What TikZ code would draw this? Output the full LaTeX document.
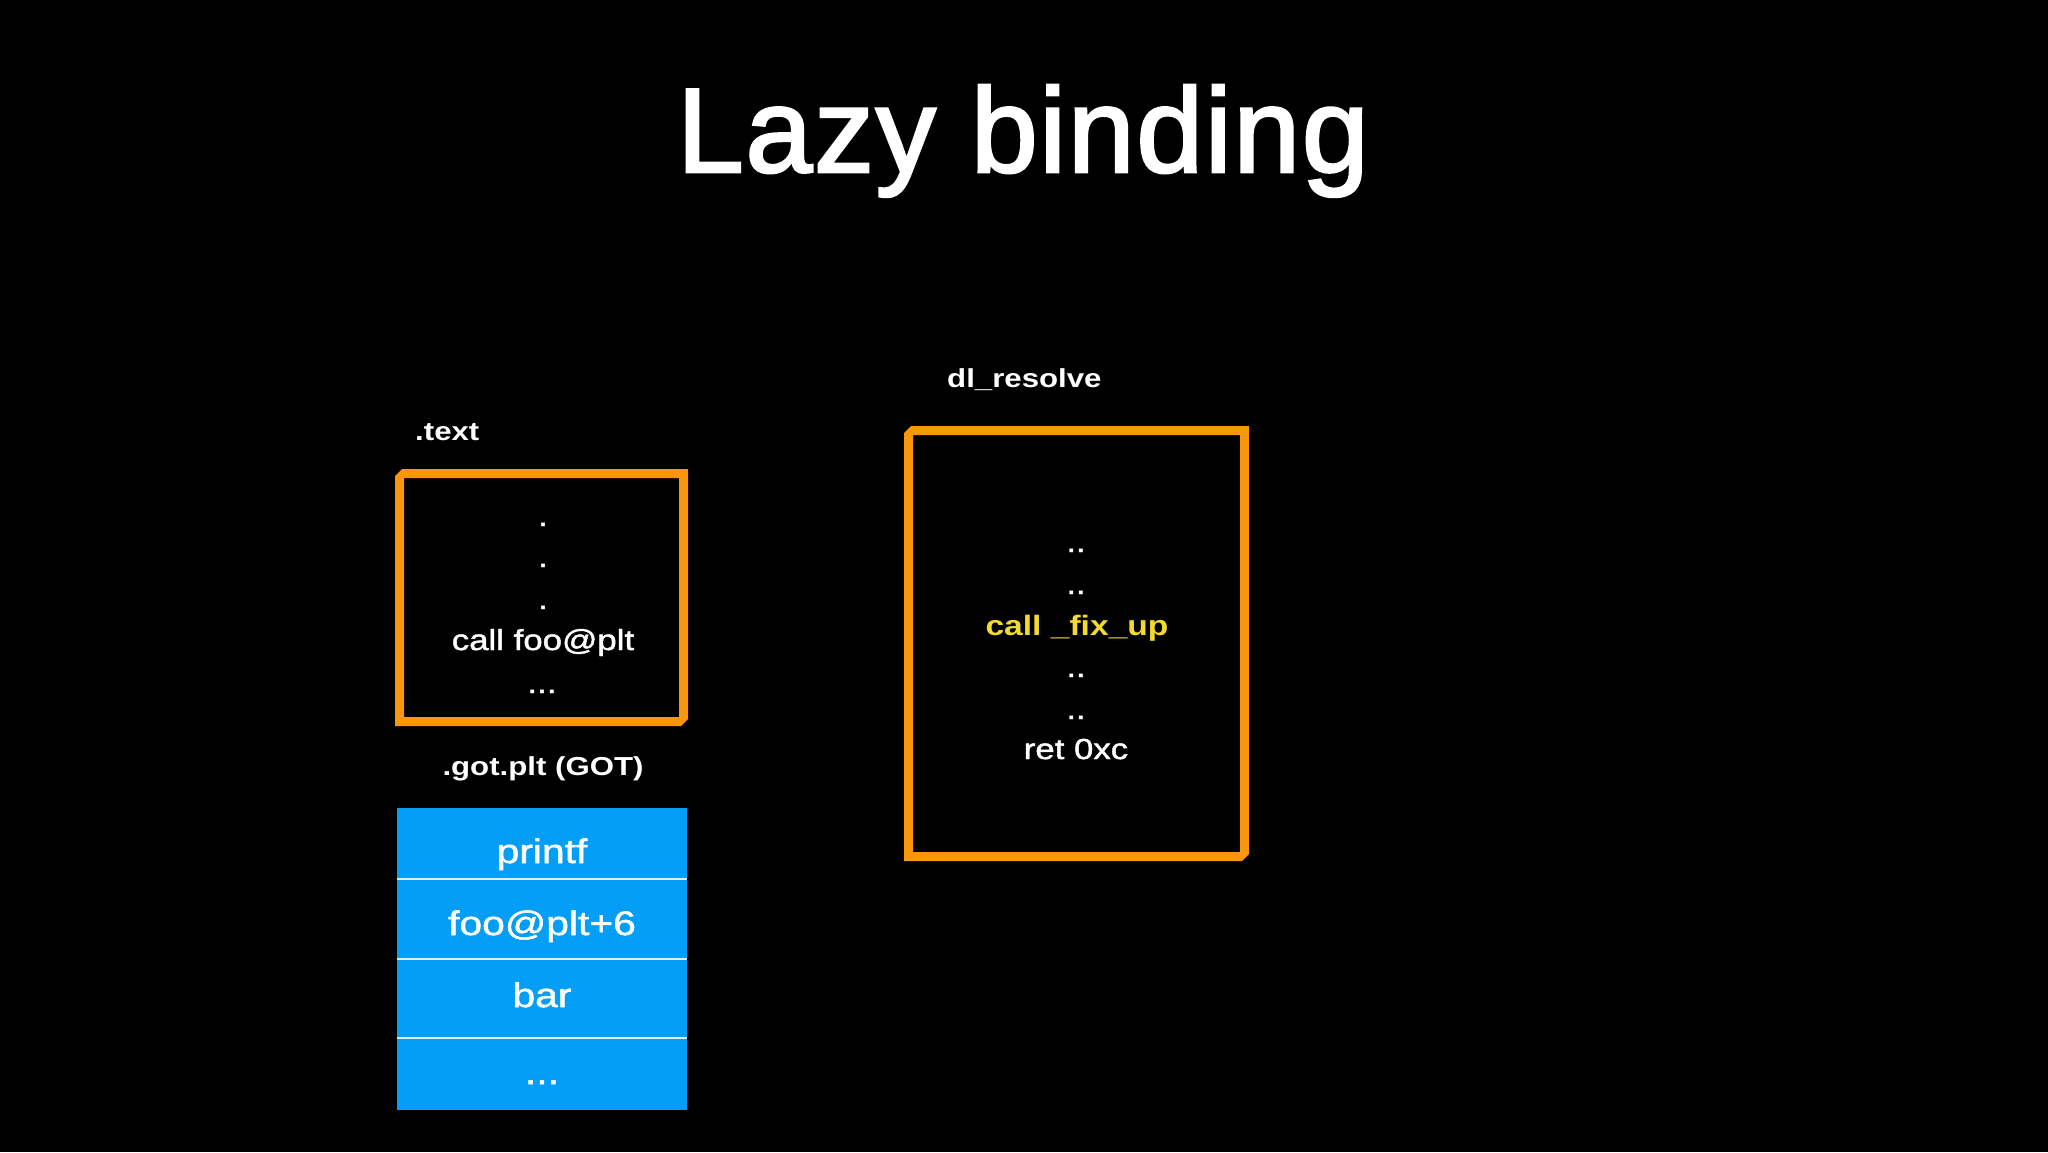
\documentclass[tikz,border=0pt]{standalone}
\usepackage{fontspec}
\setmainfont{Liberation Sans}
\newfontfamily\widesans[FakeStretch=1.2,FakeBold=1.5]{Liberation Sans}
\newfontfamily\widebold[FakeStretch=1.2]{Liberation Sans Bold}
\newfontfamily\titlesans[FakeBold=2.2,LetterSpace=1.5]{Liberation Sans}
\definecolor{frameorange}{RGB}{250,150,12}
\definecolor{gotblue}{RGB}{4,158,246}
\definecolor{fixyellow}{RGB}{242,218,46}
\begin{document}
\begin{tikzpicture}[x=1pt,y=-1pt,
  txt/.style={text=white,inner sep=0pt,anchor=base,font=\widesans\fontsize{29}{34}\selectfont},
  lbl/.style={text=white,inner sep=0pt,anchor=base,font=\widebold\fontsize{26}{31}\selectfont},
  gottxt/.style={text=white,inner sep=0pt,anchor=base,font=\widesans\fontsize{34}{40}\selectfont},
  frame/.style={fill=frameorange,even odd rule},
  divider/.style={draw=white!85!gotblue,line width=2.5pt}
]
\fill[black] (0,0) rectangle (2048,1152);
\useasboundingbox (0,0) rectangle (2048,1152);

% title
\node[text=white,inner sep=0pt,anchor=base,font=\titlesans\fontsize{120}{140}\selectfont] (title) at (1023,172) {Lazy binding};

% .text section
\node[lbl,anchor=base west] (textlbl) at (415,440) {.text};
\node[inner sep=0pt,minimum width=293pt,minimum height=257pt,anchor=north west] (textbox) at (395,469) {};
\fill[frame] (395,476) -- (402,469) -- (688,469) -- (688,719) -- (681,726) -- (395,726) -- cycle
  (404,478) rectangle (679,717);
\node[txt] (td1) at (543,526) {.};
\node[txt] (td2) at (543,567) {.};
\node[txt] (td3) at (543,609) {.};
\node[txt] (callfoo) at (543,650) {call foo@plt};
\node[txt] (tdots) at (542,693) {...};

% GOT
\node[lbl] (gotlbl) at (543,775) {.got.plt (GOT)};
\node[fill=gotblue,inner sep=0pt,minimum width=290pt,minimum height=302pt,anchor=north west] (got) at (397,808) {};
\draw[divider] (397,879) -- (687,879);
\draw[divider] (397,959) -- (687,959);
\draw[divider] (397,1038) -- (687,1038);
\node[gottxt] (printf) at (542,863) {printf};
\node[gottxt] (fooplt) at (542,935) {foo@plt+6};
\node[gottxt] (bar) at (542,1007) {bar};
\node[gottxt] (gotdots) at (542,1084) {...};

% dl_resolve section
\node[lbl,anchor=base west] (dllbl) at (947,387) {dl\_resolve};
\node[inner sep=0pt,minimum width=345pt,minimum height=435pt,anchor=north west] (dlbox) at (904,426) {};
\fill[frame] (904,433) -- (911,426) -- (1249,426) -- (1249,854) -- (1242,861) -- (904,861) -- cycle
  (913,435) rectangle (1240,852);
\node[txt] (dd1) at (1076,552) {..};
\node[txt] (dd2) at (1076,594) {..};
\node[txt,text=fixyellow,font=\widebold\fontsize{28}{33}\selectfont] (fixup) at (1077,635) {call \_fix\_up};
\node[txt] (dd3) at (1076,677) {..};
\node[txt] (dd4) at (1076,719) {..};
\node[txt] (ret) at (1076,759) {ret 0xc};
\end{tikzpicture}
\end{document}
